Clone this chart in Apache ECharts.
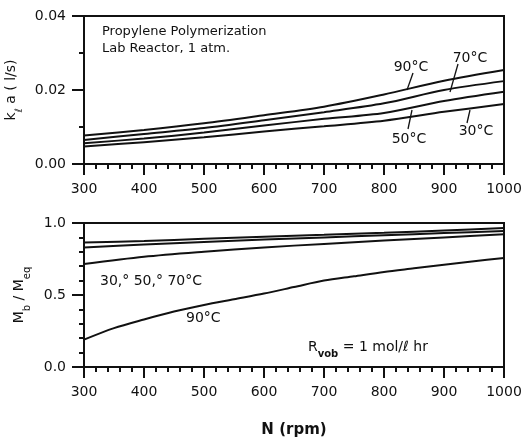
<!DOCTYPE html>
<html><head><meta charset="utf-8">
<script src="https://cdn.jsdelivr.net/npm/echarts@6/dist/echarts.min.js"></script>
<style>html,body{margin:0;padding:0;background:#fff}#c{width:523px;height:440px}</style>
</head><body><div id="c"></div>
<script>
// ---- Top panel: k_l a (1/s) vs N (rpm)
const rpmTop = [300, 400, 500, 600, 700, 800, 900, 1000];
const kla90 = [0.0077, 0.0092, 0.0110, 0.0132, 0.0155, 0.0188, 0.0225, 0.0254];
const kla70 = [0.0065, 0.0081, 0.0097, 0.0118, 0.0140, 0.0164, 0.0200, 0.0224];
const kla50 = [0.0056, 0.0069, 0.0085, 0.0104, 0.0122, 0.0138, 0.0170, 0.0195];
const kla30 = [0.0047, 0.0059, 0.0072, 0.0088, 0.0102, 0.0117, 0.0141, 0.0162];

// ---- Bottom panel: Mb/Meq vs N (rpm)
const rpmBot = [300, 400, 500, 600, 700, 800, 900, 1000];
const mbA = [0.865, 0.875, 0.890, 0.905, 0.918, 0.932, 0.948, 0.965];
const mbB = [0.830, 0.850, 0.868, 0.885, 0.900, 0.915, 0.930, 0.945];
const mbC = [0.715, 0.765, 0.800, 0.830, 0.855, 0.878, 0.900, 0.922];
const rpm90 = [300, 350, 400, 450, 500, 550, 600, 650, 700, 750, 800, 850, 900, 950, 1000];
const mb90 = [0.19, 0.27, 0.33, 0.385, 0.43, 0.47, 0.51, 0.555, 0.60, 0.63, 0.66, 0.685, 0.71, 0.735, 0.757];

const topTicks = [0.00, 0.02, 0.04];
const botTicks = [0.0, 0.5, 1.0];

const F = 'DejaVu Sans';
const INK = '#111';
const chart = echarts.init(document.getElementById('c'), null, {renderer: 'canvas'});
const pairs = (xs, ys) => xs.map((x, i) => [x, ys[i]]);

function xAxis(gridIndex, name) {
  return {
    type: 'value', gridIndex, min: 300, max: 1000, interval: 100,
    name: name || '', nameLocation: 'middle', nameGap: 56,
    nameTextStyle: {fontFamily: F, fontSize: 15, fontWeight: 'bold', color: INK},
    axisLine: {show: true, onZero: false, lineStyle: {color: INK, width: 2}},
    axisTick: {show: true, inside: false, length: 11, lineStyle: {color: INK, width: 2}},
    minorTick: {show: true, splitNumber: 5, length: 5, lineStyle: {color: INK, width: 2}},
    axisLabel: {color: INK, fontFamily: F, fontSize: 14, margin: 18, formatter: v => String(v), hideOverlap: false},
    splitLine: {show: false}, minorSplitLine: {show: false}
  };
}
function yAxis(gridIndex, ticks, minorSplit, digits, name, rich) {
  return {
    type: 'value', gridIndex, min: ticks[0], max: ticks[ticks.length - 1],
    interval: ticks[1] - ticks[0],
    name, nameLocation: 'middle', nameRotate: 90, nameGap: 58,
    nameTextStyle: {fontFamily: F, fontSize: 14, color: INK, rich},
    axisLine: {show: true, onZero: false, lineStyle: {color: INK, width: 2}},
    axisTick: {show: true, inside: false, length: 12, lineStyle: {color: INK, width: 2}},
    minorTick: {show: true, splitNumber: minorSplit, length: 5, lineStyle: {color: INK, width: 2}},
    axisLabel: {color: INK, fontFamily: F, fontSize: 14, margin: 18, formatter: v => v.toFixed(digits)},
    splitLine: {show: false}, minorSplitLine: {show: false}
  };
}
const richName = {
  n: {fontFamily: F, fontSize: 14, color: INK},
  s: {fontFamily: F, fontSize: 10, color: INK, verticalAlign: 'bottom', padding: [0, 0, -6, 0]}
};
function line(xi, ys, xs, yi) {
  return {
    type: 'line', xAxisIndex: xi, yAxisIndex: yi, data: pairs(xs, ys),
    showSymbol: false, smooth: 0.3, silent: true,
    lineStyle: {color: INK, width: 2}, itemStyle: {color: INK}
  };
}

const gridBase = {left: 84, right: 19, show: true, borderColor: INK, borderWidth: 2,
  backgroundColor: 'transparent', containLabel: false, outerBoundsMode: 'none'};
const option = {
  backgroundColor: '#fff',
  animation: false,
  grid: [
    Object.assign({}, gridBase, {top: 16, height: 148}),
    Object.assign({}, gridBase, {top: 223, height: 144})
  ],
  xAxis: [xAxis(0), xAxis(1, 'N (rpm)')],
  yAxis: [
    yAxis(0, topTicks, 2, 2, '{n|k}{s|ℓ}{n| a ( l/s)}', richName),
    yAxis(1, botTicks, 5, 1, '{n|M}{s|b}{n| / M}{s|eq}', richName)
  ],
  series: [
    line(0, kla90, rpmTop, 0), line(0, kla70, rpmTop, 0),
    line(0, kla50, rpmTop, 0), line(0, kla30, rpmTop, 0),
    line(1, mbA, rpmBot, 1), line(1, mbB, rpmBot, 1),
    line(1, mbC, rpmBot, 1), line(1, mb90, rpm90, 1)
  ]
};
chart.setOption(option);

function txt(text, x, y, size, align) {
  return {type: 'text', x, y, silent: true,
    style: {text, fill: INK, font: size + 'px "' + F + '"', align: align || 'left', verticalAlign: 'middle'}};
}
function seg(x1, y1, x2, y2) {
  return {type: 'line', silent: true, shape: {x1, y1, x2, y2}, style: {stroke: INK, lineWidth: 1.3}};
}
chart.setOption({graphic: [
  txt('Propylene Polymerization', 102, 32, 13),
  txt('Lab Reactor, 1 atm.', 102, 49, 13),
  txt('90°C', 411, 67, 14, 'center'), seg(413, 73, 407, 90),
  txt('70°C', 470, 58, 14, 'center'), seg(458, 64, 450, 92),
  txt('50°C', 409, 139, 14, 'center'), seg(412, 110, 408, 129),
  txt('30°C', 476, 131, 14, 'center'), seg(470, 110, 467, 123),
  txt('30,° 50,° 70°C', 100, 281, 14),
  txt('90°C', 186, 318, 14),
  {type: 'text', x: 308, y: 347, silent: true, style: {
    text: '{n|R}{s|vob}{n| = 1 mol/ℓ hr}', verticalAlign: 'middle',
    rich: {n: {fontFamily: F, fontSize: 14, fill: INK}, s: {fontFamily: F, fontSize: 10, fontWeight: 'bold', fill: INK, verticalAlign: 'bottom', padding: [0, 0, -5, 0]}}
  }}
]});
</script></body></html>
